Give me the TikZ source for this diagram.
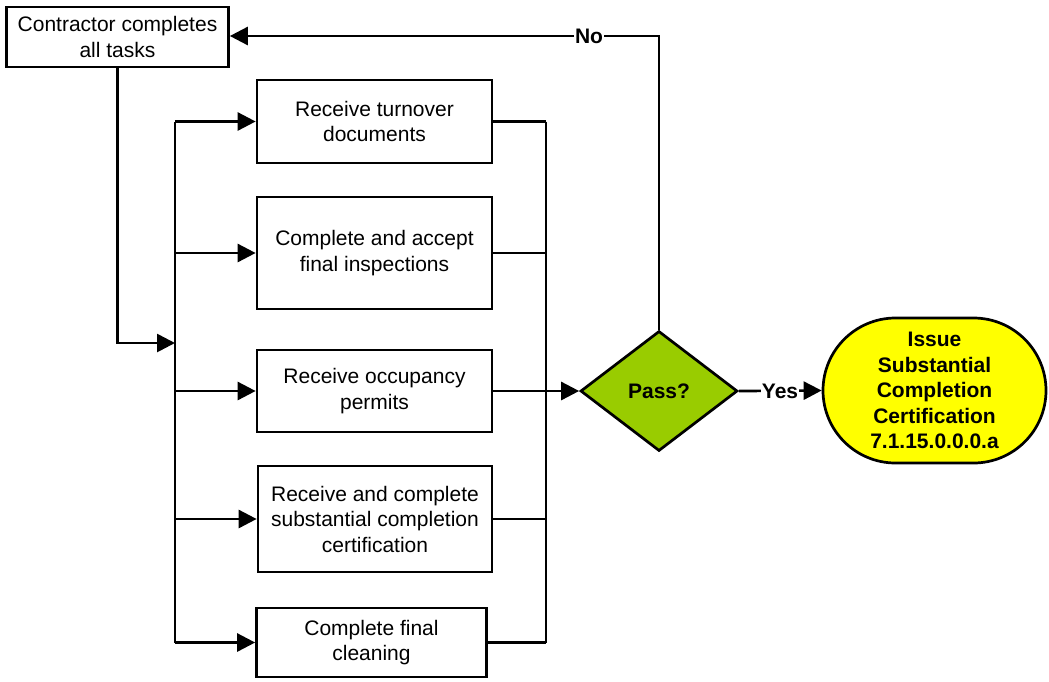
\documentclass[tikz,border=0pt]{standalone}
\usepackage{fontspec}
\setmainfont{Liberation Sans}
\usetikzlibrary{arrows.meta,shapes.geometric,shapes.misc}
\definecolor{passgreen}{HTML}{99CC00}
\definecolor{termyellow}{HTML}{FFFF00}
\begin{document}
\begin{tikzpicture}[x=1pt,y=-1pt,
  line width=2.7pt,
  every node/.style={font=\fontsize{21}{25.5}\selectfont, align=center},
  task/.style={draw, rectangle, inner sep=2pt},
  arr/.style={-{Triangle[length=18pt,width=18pt]}},
  lbl/.style={fill=white, inner sep=1pt, font=\fontsize{21}{25.5}\selectfont\bfseries}
]
\useasboundingbox (0,0) rectangle (1049,681);

\node[task, minimum width=222pt, minimum height=60pt] (cont) at (117.5,37) {Contractor completes\\all tasks};
\node[task, minimum width=235pt, minimum height=83pt] (b1) at (374.5,121.5) {Receive turnover\\documents};
\node[task, minimum width=235pt, minimum height=112pt] (b2) at (374.5,253) {Complete and accept\\final inspections};
\node[task, minimum width=235pt, minimum height=82pt] (b3) at (374.5,391) {Receive occupancy\\permits};
\node[task, minimum width=234pt, minimum height=106pt] (b4) at (375,519) {Receive and complete\\substantial completion\\certification};
\node[task, minimum width=230pt, minimum height=69pt] (b5) at (371.5,642.5) {Complete final\\cleaning};

\node[draw, diamond, fill=passgreen, minimum width=157pt, minimum height=120pt, inner sep=0pt, font=\fontsize{21}{25.5}\selectfont\bfseries] (d) at (659,391) {Pass?};

\node[draw, rounded rectangle, fill=termyellow, minimum width=223pt, minimum height=145pt, inner sep=0pt, font=\fontsize{21}{25.5}\selectfont\bfseries] (t) at (934.5,390.5) {Issue\\Substantial\\Completion\\Certification\\7.1.15.0.0.0.a};

\coordinate (lbus) at (175,343);
\coordinate (rbus) at (546,391);

% contractor to left bus
\draw[arr] (cont.south) |- (lbus);
% left bus
\draw (b1.west -| lbus) -- (b5.west -| lbus);
\foreach \b in {b1,b2,b3,b4,b5} {
  \draw[arr] (\b.west -| lbus) -- (\b.west);
}
% right bus
\draw (b1.east -| rbus) -- (b5.east -| rbus);
\foreach \b in {b1,b2,b4,b5} {
  \draw (\b.east) -- (\b.east -| rbus);
}
\draw[arr] (b3.east) -- (d.west);

% No loop
\coordinate (nocorner) at (659,36);
\draw[arr] (d.north) -- (nocorner) -- (cont.east |- nocorner);
\node[lbl] (no) at (589,36) {No};

% Yes
\draw[arr] (d.east) -- (t.west);
\node[lbl] (yes) at (780,391) {Yes};
\end{tikzpicture}
\end{document}
